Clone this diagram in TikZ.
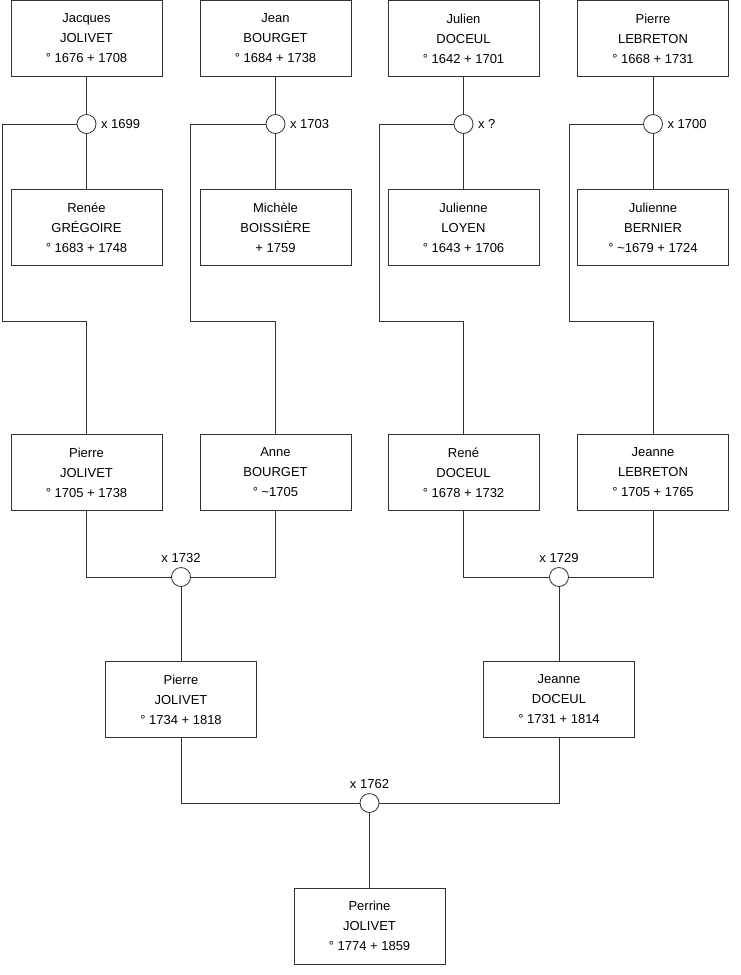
\documentclass[tikz,border=0pt]{standalone}
\usepackage{fontspec}
\setmainfont{Liberation Sans}
\usetikzlibrary{positioning}
\definecolor{treeline}{gray}{0.2}
\tikzset{
  person/.style={draw=treeline, line width=0.8pt, fill=white, minimum width=151pt,
    minimum height=76pt, inner sep=0pt, align=center, font=\fontsize{13}{20}\selectfont},
  wed/.style={circle, draw=treeline, line width=0.8pt, fill=white, minimum size=19pt, inner sep=0pt},
  wedyear/.style={inner sep=0pt, font=\fontsize{13}{15}\selectfont},
  link/.style={draw=treeline, line width=0.8pt},
}

\begin{document}
\begin{tikzpicture}[x=1pt, y=-1pt]
  \useasboundingbox (0,0) rectangle (740,975);
  \def\ca{86.5}
  \def\cb{275.5}
  \def\cc{463.5}
  \def\cd{653}

  % Row 1: great-grandfathers
  \node[person] (p11) at (\ca, 38.5) {Jacques\\JOLIVET\\° 1676 + 1708};
  \node[person] (p12) at (\cb, 38.5) {Jean\\BOURGET\\° 1684 + 1738};
  \node[person] (p13) at (\cc, 38.5) {Julien\\DOCEUL\\° 1642 + 1701};
  \node[person] (p14) at (\cd, 38.5) {Pierre\\LEBRETON\\° 1668 + 1731};

  % Row 2: great-grandmothers
  \node[person] (p21) at (\ca, 227.5) {Renée\\GRÉGOIRE\\° 1683 + 1748};
  \node[person] (p22) at (\cb, 227.5) {Michèle\\BOISSIÈRE\\+ 1759};
  \node[person] (p23) at (\cc, 227.5) {Julienne\\LOYEN\\° 1643 + 1706};
  \node[person] (p24) at (\cd, 227.5) {Julienne\\BERNIER\\° \textasciitilde 1679 + 1724};

  % Row 3: grandparents
  \node[person] (p31) at (\ca, 472.5) {Pierre\\JOLIVET\\° 1705 + 1738};
  \node[person] (p32) at (\cb, 472.5) {Anne\\BOURGET\\° \textasciitilde 1705};
  \node[person] (p33) at (\cc, 472.5) {René\\DOCEUL\\° 1678 + 1732};
  \node[person] (p34) at (\cd, 472.5) {Jeanne\\LEBRETON\\° 1705 + 1765};

  % Row 4: parents
  \node[person] (p41) at (181, 699.5) {Pierre\\JOLIVET\\° 1734 + 1818};
  \node[person] (p42) at (559, 699.5) {Jeanne\\DOCEUL\\° 1731 + 1814};

  % Row 5
  \node[person] (p5) at (369.5, 926) {Perrine\\JOLIVET\\° 1774 + 1859};

  % marriages
  \node[wed] (m1) at (\ca, 124) {};
  \node[wed] (m2) at (\cb, 124) {};
  \node[wed] (m3) at (\cc, 124) {};
  \node[wed] (m4) at (\cd, 124) {};
  \node[wed] (m5) at (181, 577) {};
  \node[wed] (m6) at (559, 577) {};
  \node[wed] (m7) at (369.5, 803) {};

  \node[wedyear, right=4.5pt of m1] (y1) {x 1699};
  \node[wedyear, right=4.5pt of m2] (y2) {x 1703};
  \node[wedyear, right=4.5pt of m3] (y3) {x ?};
  \node[wedyear, right=4.5pt of m4] (y4) {x 1700};
  \node[wedyear, above=4pt of m5] (y5) {x 1732};
  \node[wedyear, above=4pt of m6] (y6) {x 1729};
  \node[wedyear, above=4pt of m7] (y7) {x 1762};

  % bends of the child lines
  \coordinate (k1) at (2, 321);
  \coordinate (k2) at (190, 321);
  \coordinate (k3) at (379, 321);
  \coordinate (k4) at (569, 321);

  \foreach \i in {1,...,4} {
    \draw[link] (p1\i) -- (m\i);
    \draw[link] (m\i) -- (p2\i);
    \draw[link] (m\i.west) -| (k\i) -| (p3\i.north);
  }

  \draw[link] (p31.south) |- (m5);
  \draw[link] (p32.south) |- (m5);
  \draw[link] (m5) -- (p41);
  \draw[link] (p33.south) |- (m6);
  \draw[link] (p34.south) |- (m6);
  \draw[link] (m6) -- (p42);
  \draw[link] (p41.south) |- (m7);
  \draw[link] (p42.south) |- (m7);
  \draw[link] (m7) -- (p5);
\end{tikzpicture}
\end{document}
